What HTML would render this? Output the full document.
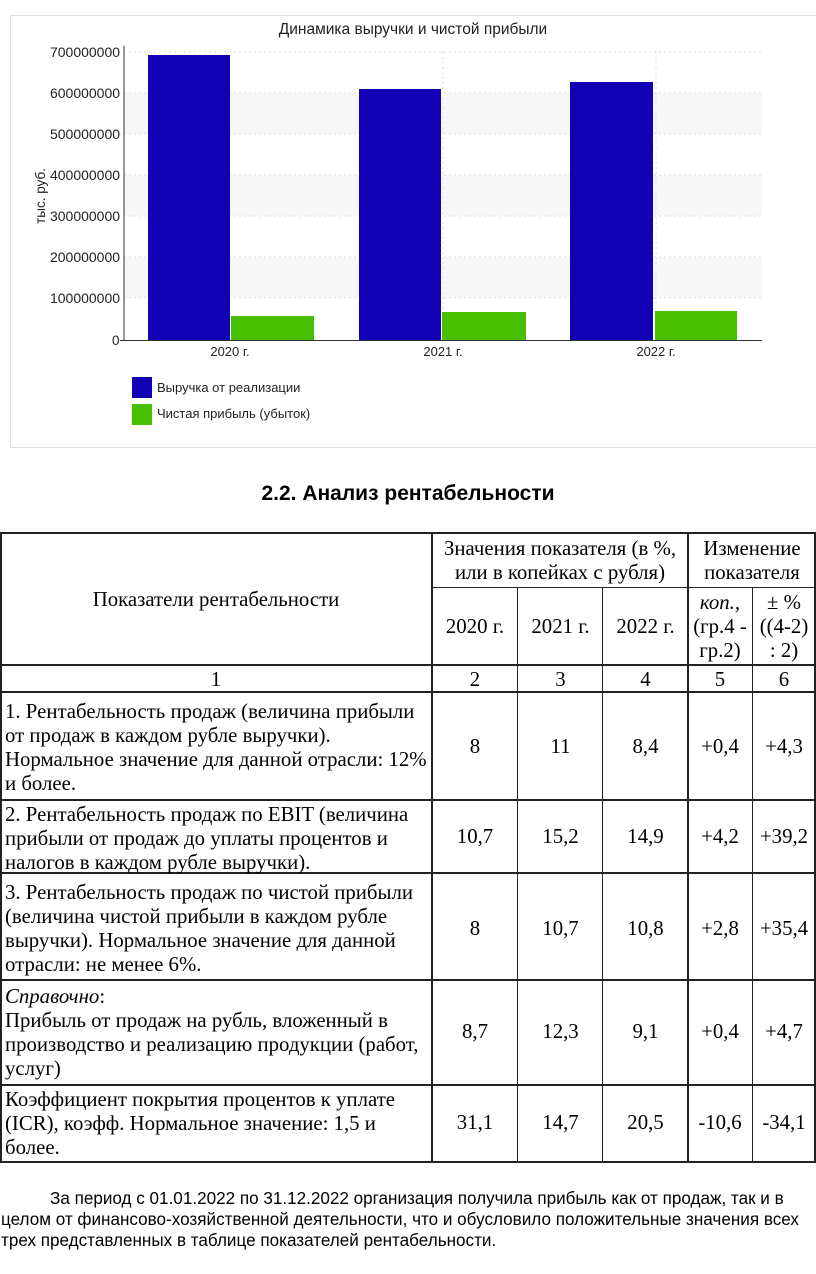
<!DOCTYPE html>
<html><head><meta charset="utf-8"><style>
body{margin:0;width:816px;height:1274px;background:#fff;position:relative;overflow:hidden}
.t{position:absolute;font-family:"Liberation Serif",serif;font-size:20.8px;color:#000;white-space:nowrap;line-height:24px}
.c{text-align:center}
.p{position:absolute;font-family:"Liberation Sans",sans-serif;font-size:17.1px;white-space:nowrap;line-height:21px}
.l{position:absolute;background:#222}
</style></head><body>
<svg width="816" height="460" style="position:absolute;left:0;top:0" font-family="Liberation Sans,sans-serif">
<rect x="10.5" y="15.5" width="810" height="432" fill="#fff" stroke="#ddd"/>
<text x="413" y="34" font-size="15.5" text-anchor="middle" fill="#222">Динамика выручки и чистой прибыли</text>
<g fill="#f7f7f7"><rect x="124" y="93" width="638" height="41"/><rect x="124" y="175" width="638" height="41"/><rect x="124" y="257" width="638" height="41"/></g>
<g stroke="#ddd" stroke-dasharray="2,3"><line x1="124" y1="52" x2="762" y2="52"/><line x1="124" y1="93" x2="762" y2="93"/><line x1="124" y1="134" x2="762" y2="134"/><line x1="124" y1="175" x2="762" y2="175"/><line x1="124" y1="216" x2="762" y2="216"/><line x1="124" y1="257" x2="762" y2="257"/><line x1="124" y1="298" x2="762" y2="298"/><line x1="443" y1="52" x2="443" y2="340"/><line x1="656" y1="52" x2="656" y2="340"/></g>
<g fill="#1200b4"><rect x="148" y="55" width="82" height="285"/><rect x="359" y="89" width="82" height="251"/><rect x="570" y="82" width="83" height="258"/></g>
<g fill="#48c000"><rect x="231" y="316" width="83" height="24"/><rect x="442" y="312" width="84" height="28"/><rect x="655" y="311" width="82" height="29"/></g>
<line x1="124" y1="46" x2="124" y2="340" stroke="#333"/><line x1="120" y1="340.5" x2="762" y2="340.5" stroke="#333"/>
<g font-size="13.5" fill="#222"><text x="50" y="57" textLength="70" lengthAdjust="spacingAndGlyphs">700000000</text><text x="50" y="98" textLength="70" lengthAdjust="spacingAndGlyphs">600000000</text><text x="50" y="139" textLength="70" lengthAdjust="spacingAndGlyphs">500000000</text><text x="50" y="180" textLength="70" lengthAdjust="spacingAndGlyphs">400000000</text><text x="50" y="221" textLength="70" lengthAdjust="spacingAndGlyphs">300000000</text><text x="50" y="262" textLength="70" lengthAdjust="spacingAndGlyphs">200000000</text><text x="50" y="303" textLength="70" lengthAdjust="spacingAndGlyphs">100000000</text><text x="112" y="345">0</text></g>
<g font-size="13" text-anchor="middle" fill="#222"><text x="230" y="356">2020 г.</text><text x="443" y="356">2021 г.</text><text x="656" y="356">2022 г.</text></g>
<text transform="translate(45,196) rotate(-90)" font-size="13.5" text-anchor="middle" fill="#222">тыс. руб.</text>
<rect x="132" y="377" width="20" height="21" fill="#1200b4"/><rect x="132" y="404" width="20" height="21" fill="#48c000"/>
<text x="157" y="392" font-size="13" fill="#222">Выручка от реализации</text><text x="157" y="418" font-size="13" fill="#222">Чистая прибыль (убыток)</text>
</svg>
<div style="position:absolute;left:0;width:816px;top:482px;text-align:center;font-family:'Liberation Sans',sans-serif;font-weight:bold;font-size:21px">2.2. Анализ рентабельности</div>
<div class="l" style="left:0;top:532px;width:816px;height:2px"></div>
<div class="l" style="left:432px;top:587px;width:384px;height:1px"></div>
<div class="l" style="left:0;top:664px;width:816px;height:2px"></div>
<div class="l" style="left:0;top:691px;width:816px;height:2px"></div>
<div class="l" style="left:0;top:799px;width:816px;height:2px"></div>
<div class="l" style="left:0;top:872px;width:816px;height:2px"></div>
<div class="l" style="left:0;top:979px;width:816px;height:2px"></div>
<div class="l" style="left:0;top:1084px;width:816px;height:2px"></div>
<div class="l" style="left:0;top:1161px;width:816px;height:2px"></div>
<div class="l" style="left:0;top:532px;width:2px;height:631px"></div>
<div class="l" style="left:431px;top:532px;width:2px;height:631px"></div>
<div class="l" style="left:517px;top:587px;width:1px;height:576px"></div>
<div class="l" style="left:602px;top:587px;width:1px;height:576px"></div>
<div class="l" style="left:687px;top:532px;width:2px;height:631px"></div>
<div class="l" style="left:752px;top:587px;width:1px;height:576px"></div>
<div class="l" style="left:814px;top:532px;width:2px;height:631px"></div>
<div class="t c" style="left:0;width:432px;top:588px">Показатели рентабельности</div>
<div class="t c" style="left:432px;width:256px;top:537px">Значения показателя (в %,<br>или в копейках с рубля)</div>
<div class="t c" style="left:688px;width:128px;top:537px">Изменение<br>показателя</div>
<div class="t c" style="left:432px;width:86px;top:615px">2020 г.</div>
<div class="t c" style="left:518px;width:85px;top:615px">2021 г.</div>
<div class="t c" style="left:603px;width:85px;top:615px">2022 г.</div>
<div class="t c" style="left:688px;width:64px;top:591px"><i>коп.</i>,<br>(гр.4 -<br>гр.2)</div>
<div class="t c" style="left:752px;width:64px;top:591px">± %<br>((4-2)<br>: 2)</div>
<div class="t c" style="left:0;width:432px;top:668px">1</div>
<div class="t c" style="left:432px;width:86px;top:668px">2</div>
<div class="t c" style="left:518px;width:85px;top:668px">3</div>
<div class="t c" style="left:603px;width:85px;top:668px">4</div>
<div class="t c" style="left:688px;width:64px;top:668px">5</div>
<div class="t c" style="left:752px;width:64px;top:668px">6</div>
<div class="t" style="left:5px;top:700px">1. Рентабельность продаж (величина прибыли<br>от продаж в каждом рубле выручки).<br>Нормальное значение для данной отрасли: 12%<br>и более.</div>
<div class="t" style="left:5px;top:803px">2. Рентабельность продаж по EBIT (величина<br>прибыли от продаж до уплаты процентов и<br>налогов в каждом рубле выручки).</div>
<div class="t" style="left:5px;top:881px">3. Рентабельность продаж по чистой прибыли<br>(величина чистой прибыли в каждом рубле<br>выручки). Нормальное значение для данной<br>отрасли: не менее 6%.</div>
<div class="t" style="left:5px;top:985px"><i>Справочно</i>:<br>Прибыль от продаж на рубль, вложенный в<br>производство и реализацию продукции (работ,<br>услуг)</div>
<div class="t" style="left:5px;top:1088px">Коэффициент покрытия процентов к уплате<br>(ICR), коэфф. Нормальное значение: 1,5 и<br>более.</div>
<div class="t c" style="left:432px;width:86px;top:735px">8</div><div class="t c" style="left:518px;width:85px;top:735px">11</div><div class="t c" style="left:603px;width:85px;top:735px">8,4</div><div class="t c" style="left:688px;width:64px;top:735px">+0,4</div><div class="t c" style="left:752px;width:64px;top:735px">+4,3</div>
<div class="t c" style="left:432px;width:86px;top:825px">10,7</div><div class="t c" style="left:518px;width:85px;top:825px">15,2</div><div class="t c" style="left:603px;width:85px;top:825px">14,9</div><div class="t c" style="left:688px;width:64px;top:825px">+4,2</div><div class="t c" style="left:752px;width:64px;top:825px">+39,2</div>
<div class="t c" style="left:432px;width:86px;top:917px">8</div><div class="t c" style="left:518px;width:85px;top:917px">10,7</div><div class="t c" style="left:603px;width:85px;top:917px">10,8</div><div class="t c" style="left:688px;width:64px;top:917px">+2,8</div><div class="t c" style="left:752px;width:64px;top:917px">+35,4</div>
<div class="t c" style="left:432px;width:86px;top:1020px">8,7</div><div class="t c" style="left:518px;width:85px;top:1020px">12,3</div><div class="t c" style="left:603px;width:85px;top:1020px">9,1</div><div class="t c" style="left:688px;width:64px;top:1020px">+0,4</div><div class="t c" style="left:752px;width:64px;top:1020px">+4,7</div>
<div class="t c" style="left:432px;width:86px;top:1111px">31,1</div><div class="t c" style="left:518px;width:85px;top:1111px">14,7</div><div class="t c" style="left:603px;width:85px;top:1111px">20,5</div><div class="t c" style="left:688px;width:64px;top:1111px">-10,6</div><div class="t c" style="left:752px;width:64px;top:1111px">-34,1</div>
<div class="p" style="left:50px;top:1188px">За период с 01.01.2022 по 31.12.2022 организация получила прибыль как от продаж, так и в</div>
<div class="p" style="left:1px;top:1209px">целом от финансово-хозяйственной деятельности, что и обусловило положительные значения всех</div>
<div class="p" style="left:1px;top:1230px">трех представленных в таблице показателей рентабельности.</div>
</body></html>
